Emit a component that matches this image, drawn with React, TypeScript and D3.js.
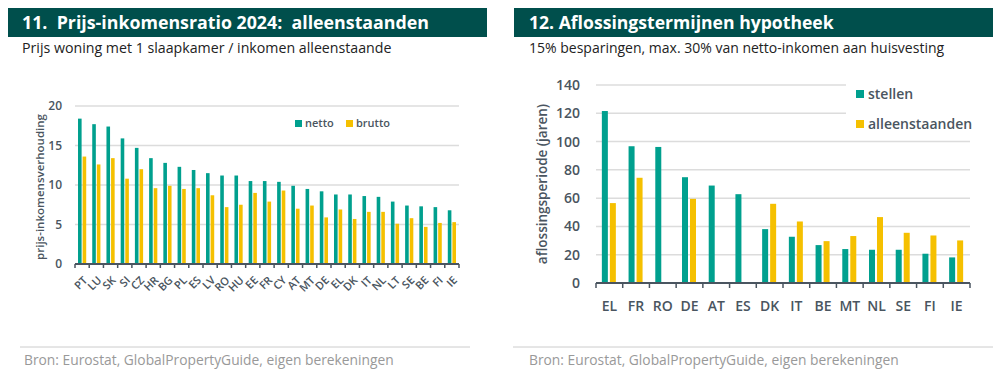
import React from 'react';
import * as d3 from 'd3';

// chart 11
const countries11 = ['PT', 'LU', 'SK', 'SI', 'CZ', 'HR', 'BG', 'PL', 'ES', 'LV', 'RO', 'HU', 'EE', 'FR', 'CY', 'AT', 'MT', 'DE', 'EL', 'DK', 'IT', 'NL', 'LT', 'SE', 'BE', 'FI', 'IE'];
const netto = [18.4, 17.7, 17.4, 15.9, 14.7, 13.4, 12.8, 12.3, 11.9, 11.5, 11.2, 11.2, 10.5, 10.5, 10.4, 9.9, 9.5, 9.2, 8.8, 8.8, 8.6, 8.5, 7.9, 7.4, 7.3, 7.2, 6.8];
const brutto = [13.6, 12.6, 13.4, 10.8, 12.0, 9.6, 9.9, 9.5, 9.6, 8.7, 7.2, 7.5, 9.0, 7.9, 9.3, 7.0, 7.4, 5.9, 6.9, 5.7, 6.6, 6.6, 5.1, 5.8, 4.7, 5.2, 5.3];
const ticks11 = [0, 5, 10, 15, 20];

// chart 12
const countries12 = ['EL', 'FR', 'RO', 'DE', 'AT', 'ES', 'DK', 'IT', 'BE', 'MT', 'NL', 'SE', 'FI', 'IE'];
const stellen = [121.6, 96.7, 96.2, 74.8, 68.9, 62.8, 38.1, 32.7, 26.8, 24.0, 23.5, 23.5, 20.7, 18.1];
const alleenstaanden: (number | null)[] = [56.5, 74.4, null, 59.5, null, null, 56.0, 43.5, 29.6, 33.2, 46.6, 35.5, 33.6, 30.1];
const ticks12 = [0, 20, 40, 60, 80, 100, 120, 140];

const HEADER = '#004f4c';
const TEAL = '#00a08e';
const YELLOW = '#f5c000';
const AXIS = '#4a5560';
const GRID = '#dcdcdc';
const FONT = '"Open Sans", Lato, sans-serif';

const LeftChart = () => {
  const x = d3.scaleBand<string>().domain(countries11).range([75, 459]);
  const y = d3.scaleLinear().domain([0, 20]).range([264, 106]);
  const bw = 3.6;
  return (
    <g>
      <rect x={8} y={8} width={479} height={29} fill={HEADER} />
      <text x={22} y={29} fill="#fff" fontSize={17.8} fontWeight={700} style={{ whiteSpace: 'pre' }}>
        {'11.  Prijs-inkomensratio 2024:  alleenstaanden'}
      </text>
      <text x={22} y={53} fill="#222" fontSize={14.2}>Prijs woning met 1 slaapkamer / inkomen alleenstaande</text>

      {ticks11.map(t => (
        <g key={t}>
          {t > 0 && <line x1={75} x2={459} y1={y(t)} y2={y(t)} stroke={GRID} strokeWidth={1.5} />}
          <text x={62} y={y(t) + 4} textAnchor="end" fontSize={12} fontWeight={600} fill={AXIS}>{t}</text>
        </g>
      ))}
      <text transform={`translate(44,${(y(0) + y(20)) / 2 + 2}) rotate(-90)`} textAnchor="middle" fontSize={11.5} fontWeight={600} fill={AXIS}>
        prijs-inkomensverhouding
      </text>

      {countries11.map((c, i) => {
        const cx = (x(c) as number) + x.bandwidth() / 2;
        return (
          <g key={c}>
            <rect x={cx - bw - 0.5} y={y(netto[i])} width={bw} height={y(0) - y(netto[i])} fill={TEAL} />
            <rect x={cx + 0.5} y={y(brutto[i])} width={bw} height={y(0) - y(brutto[i])} fill={YELLOW} />
            <text transform={`translate(${cx + 6},${y(0) + 17}) rotate(-45)`} textAnchor="end" fontSize={11} fontWeight={600} fill={AXIS}>{c}</text>
          </g>
        );
      })}
      <line x1={75} x2={459} y1={y(0)} y2={y(0)} stroke={AXIS} strokeWidth={2} />
      {d3.range(countries11.length + 1).map(i => {
        const tx = 75 + i * x.step();
        return <line key={i} x1={tx} x2={tx} y1={y(0)} y2={y(0) + 4} stroke={AXIS} strokeWidth={1.5} />;
      })}

      <rect x={295} y={120} width={7} height={7} fill={TEAL} />
      <text x={305} y={127} fontSize={11} fontWeight={600} fill={AXIS}>netto</text>
      <rect x={346} y={120} width={7} height={7} fill={YELLOW} />
      <text x={356} y={127} fontSize={11} fontWeight={600} fill={AXIS}>brutto</text>

      <line x1={20} x2={470} y1={347} y2={347} stroke="#ccc" strokeWidth={1} />
      <text x={24} y={365} fontSize={13.8} fill="#999">Bron: Eurostat, GlobalPropertyGuide, eigen berekeningen</text>
    </g>
  );
};

const RightChart = () => {
  const x = d3.scaleBand<string>().domain(countries12).range([596, 970]);
  const y = d3.scaleLinear().domain([0, 140]).range([283, 85]);
  const bw = 6;
  return (
    <g>
      <rect x={514} y={8} width={479} height={29} fill={HEADER} />
      <text x={529} y={29} fill="#fff" fontSize={17.6} fontWeight={700}>12. Aflossingstermijnen hypotheek</text>
      <text x={529} y={53} fill="#222" fontSize={14}>15% besparingen, max. 30% van netto-inkomen aan huisvesting</text>

      {ticks12.map(t => (
        <g key={t}>
          {t > 0 && <line x1={596} x2={t >= 120 ? 846 : 970} y1={y(t)} y2={y(t)} stroke={GRID} strokeWidth={1.5} />}
          <text x={580} y={y(t) + 5} textAnchor="end" fontSize={14} fontWeight={600} fill={AXIS}>{t}</text>
        </g>
      ))}
      <text transform={`translate(547,${(y(0) + y(140)) / 2}) rotate(-90)`} textAnchor="middle" fontSize={13.5} fontWeight={600} fill={AXIS}>
        aflossingsperiode (jaren)
      </text>

      {countries12.map((c, i) => {
        const cx = (x(c) as number) + x.bandwidth() / 2;
        const a = alleenstaanden[i];
        return (
          <g key={c}>
            <rect x={cx - bw - 1.5} y={y(stellen[i])} width={bw} height={y(0) - y(stellen[i])} fill={TEAL} />
            {a != null && <rect x={cx + 0.5} y={y(a)} width={bw} height={y(0) - y(a)} fill={YELLOW} />}
            <text x={cx} y={y(0) + 28} textAnchor="middle" fontSize={14} fontWeight={600} fill={AXIS}>{c}</text>
          </g>
        );
      })}
      <line x1={596} x2={970} y1={y(0)} y2={y(0)} stroke={AXIS} strokeWidth={2} />
      {d3.range(countries12.length + 1).map(i => {
        const tx = 596 + i * x.step();
        return <line key={i} x1={tx} x2={tx} y1={y(0)} y2={y(0) + 5} stroke={AXIS} strokeWidth={1.5} />;
      })}

      <rect x={856} y={90} width={8} height={8} fill={TEAL} />
      <text x={868} y={99} fontSize={14} fontWeight={600} fill={AXIS}>stellen</text>
      <rect x={856} y={120} width={8} height={8} fill={YELLOW} />
      <text x={868} y={129} fontSize={14} fontWeight={600} fill={AXIS}>alleenstaanden</text>

      <line x1={513} x2={993} y1={347} y2={347} stroke="#ccc" strokeWidth={1} />
      <text x={529} y={365} fontSize={13.8} fill="#999">Bron: Eurostat, GlobalPropertyGuide, eigen berekeningen</text>
    </g>
  );
};

export default function App() {
  return (
    <div style={{ position: 'absolute', left: 0, top: 0 }}>
      <svg width={997} height={374} style={{ display: 'block', fontFamily: FONT }}>
        <rect width={997} height={374} fill="#fff" />
        <LeftChart />
        <RightChart />
      </svg>
    </div>
  );
}
